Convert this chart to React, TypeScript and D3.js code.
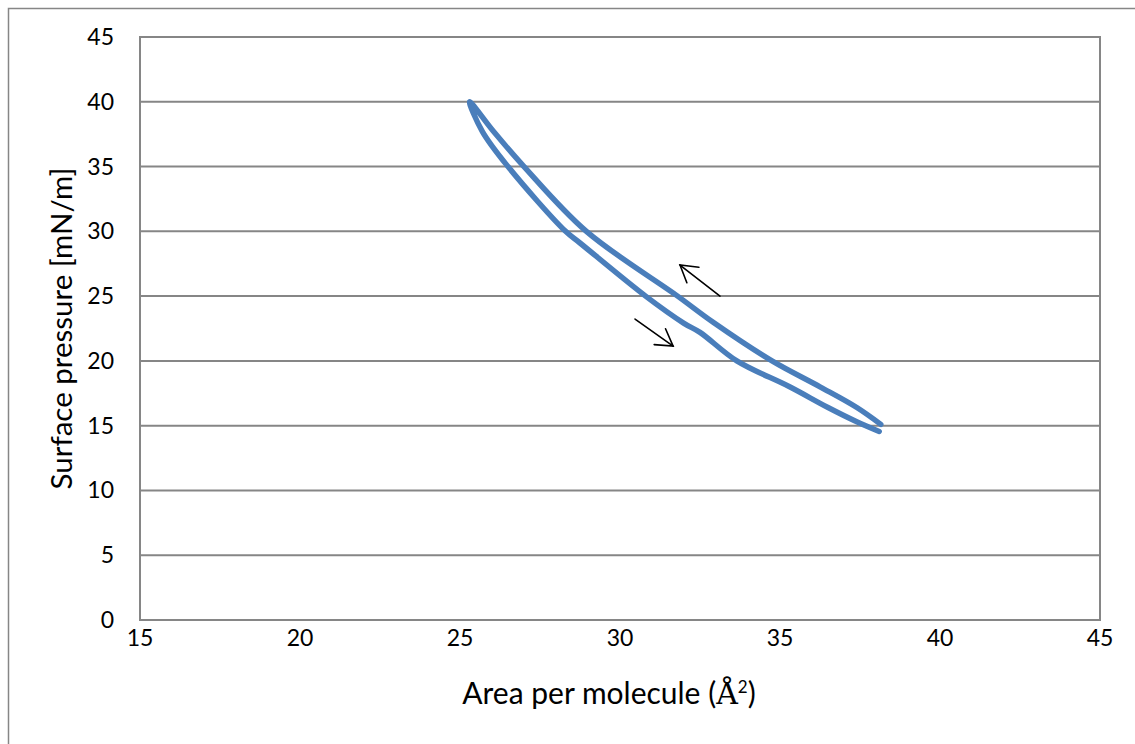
import { useEffect, useRef } from 'react';
import * as d3 from 'd3';

// compression branch (area decreasing, pressure rising)
const areaCompression = [38.15, 37.4, 36.25, 34.75, 32.9, 31.8, 28.95, 27.0, 26.05, 25.3];
const pressureCompression = [15.1, 16.4, 18.0, 20.0, 23.0, 25.0, 30.0, 35.0, 37.7, 40.0];

// expansion branch (area increasing, pressure falling)
const areaExpansion = [25.7, 26.5, 28.3, 28.75, 30.8, 32.0, 32.5, 33.65, 35.3, 36.5, 37.4, 38.1];
const pressureExpansion = [37.7, 35.0, 30.0, 29.1, 25.0, 22.9, 22.2, 20.0, 18.0, 16.4, 15.3, 14.55];

const xTicks = [15, 20, 25, 30, 35, 40, 45];
const yTicks = [0, 5, 10, 15, 20, 25, 30, 35, 40, 45];

// direction arrows, tail -> head, in data units
const arrowTail = [[33.125, 25.0], [30.47, 23.23]];
const arrowHead = [[31.875, 27.4], [31.66, 21.14]];

const FONT = 'Lato, "Open Sans", sans-serif';
const GRID = '#868686';

const App = () => {
  const svgRef = useRef<SVGSVGElement | null>(null);

  useEffect(() => {
    if (!svgRef.current) return;
    const svg = d3.select(svgRef.current);
    svg.selectAll('*').remove();

    const x = d3.scaleLinear().domain([15, 45]).range([140, 1100]);
    const y = d3.scaleLinear().domain([0, 45]).range([620, 37]);

    // outer chart frame (runs past the window on right/bottom)
    svg.append('rect')
      .attr('x', 8.5).attr('y', 8.5)
      .attr('width', 1200).attr('height', 800)
      .attr('fill', 'white')
      .attr('stroke', GRID)
      .attr('stroke-width', 1.5);

    // horizontal gridlines
    svg.append('g')
      .selectAll('line')
      .data(yTicks)
      .enter()
      .append('line')
      .attr('x1', x(15)).attr('x2', x(45))
      .attr('y1', d => y(d)).attr('y2', d => y(d))
      .attr('stroke', GRID)
      .attr('stroke-width', 2);

    // plot area box
    svg.append('rect')
      .attr('x', x(15)).attr('y', y(45))
      .attr('width', x(45) - x(15)).attr('height', y(0) - y(45))
      .attr('fill', 'none')
      .attr('stroke', GRID)
      .attr('stroke-width', 2);

    // tick labels
    svg.append('g')
      .selectAll('text')
      .data(xTicks)
      .enter()
      .append('text')
      .attr('x', d => x(d))
      .attr('y', 646)
      .attr('text-anchor', 'middle')
      .style('font-family', FONT)
      .style('font-size', '23px')
      .attr('fill', '#000')
      .text(d => d);

    svg.append('g')
      .selectAll('text')
      .data(yTicks)
      .enter()
      .append('text')
      .attr('x', 114)
      .attr('y', d => y(d) + 8)
      .attr('text-anchor', 'end')
      .style('font-family', FONT)
      .style('font-size', '23px')
      .attr('fill', '#000')
      .text(d => d);

    // axis titles
    const xt = svg.append('text')
      .attr('x', 609).attr('y', 704)
      .attr('text-anchor', 'middle')
      .style('font-family', FONT)
      .style('font-size', '30px')
      .attr('fill', '#000');
    xt.append('tspan').text('Area per molecule (');
    xt.append('tspan').style('font-family', '"DejaVu Serif", serif').text('Å');
    xt.append('tspan').style('font-size', '17px').attr('dy', -11).text('2');
    xt.append('tspan').attr('dy', 11).text(')');

    svg.append('text')
      .attr('transform', `translate(72, ${(y(0) + y(45)) / 2}) rotate(-90)`)
      .attr('text-anchor', 'middle')
      .style('font-family', FONT)
      .style('font-size', '29.5px')
      .attr('fill', '#000')
      .text('Surface pressure [mN/m]');

    // isotherm cycle
    const pts: [number, number][] = [
      ...areaCompression.map((a, i) => [a, pressureCompression[i]] as [number, number]),
      ...areaExpansion.map((a, i) => [a, pressureExpansion[i]] as [number, number]),
    ];
    const line = d3.line<[number, number]>()
      .x(d => x(d[0]))
      .y(d => y(d[1]))
      .curve(d3.curveCatmullRom.alpha(0.5));

    svg.append('path')
      .attr('d', line(pts))
      .attr('fill', 'none')
      .attr('stroke', '#4A7EBB')
      .attr('stroke-width', 5.5)
      .attr('stroke-linecap', 'round')
      .attr('stroke-linejoin', 'round');

    // arrows
    const armLen = 19;
    const armAng = (31 * Math.PI) / 180;
    arrowTail.forEach((t, i) => {
      const h = arrowHead[i];
      const x0 = x(t[0]), y0 = y(t[1]);
      const x1 = x(h[0]), y1 = y(h[1]);
      const back = Math.atan2(y0 - y1, x0 - x1);
      const g = svg.append('g')
        .attr('stroke', '#000')
        .attr('stroke-width', 1.6)
        .attr('fill', 'none')
        .attr('stroke-linecap', 'round');
      g.append('line').attr('x1', x0).attr('y1', y0).attr('x2', x1).attr('y2', y1);
      g.append('path').attr('d',
        `M${x1 + armLen * Math.cos(back + armAng)},${y1 + armLen * Math.sin(back + armAng)}` +
        `L${x1},${y1}` +
        `L${x1 + armLen * Math.cos(back - armAng)},${y1 + armLen * Math.sin(back - armAng)}`);
    });
  }, []);

  return (
    <svg
      ref={svgRef}
      width={1135}
      height={744}
      style={{ position: 'absolute', left: 0, top: 0, display: 'block' }}
    />
  );
};

export default App;
